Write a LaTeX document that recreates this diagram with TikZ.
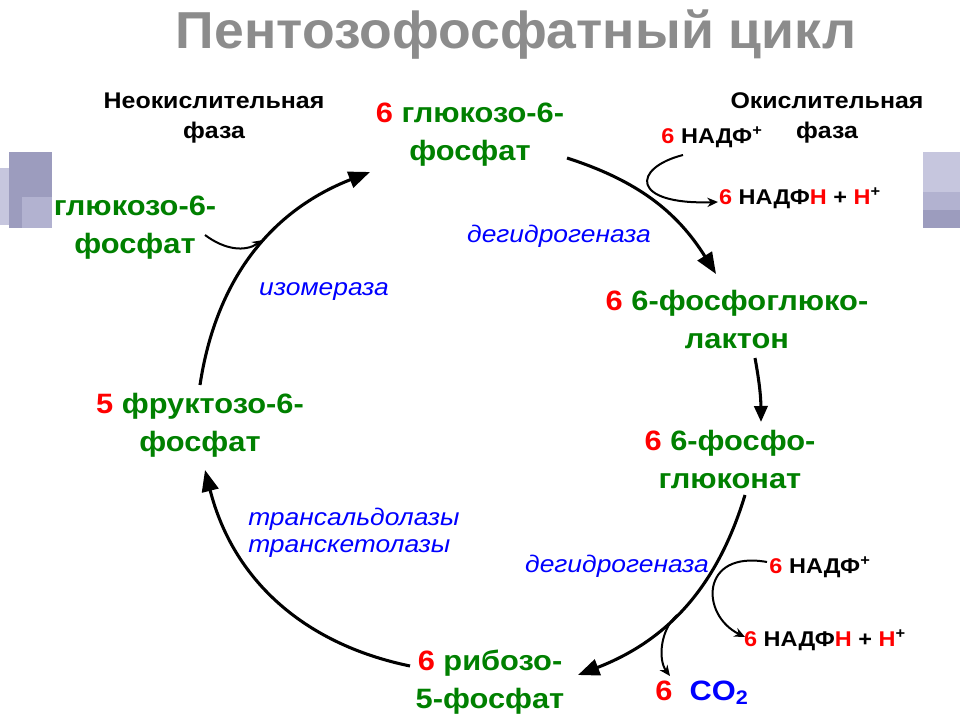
\documentclass[tikz,border=0pt]{standalone}
\usepackage{fontspec}
\setmainfont{Liberation Sans}[FakeStretch=1.1]
\newfontfamily\ttlfont{Liberation Sans}[FakeStretch=1.03]
\usetikzlibrary{arrows.meta}
\definecolor{grn}{RGB}{0,128,0}
\definecolor{ttl}{RGB}{140,140,140}
\definecolor{sqdark}{RGB}{156,156,190}
\definecolor{sqmid}{RGB}{178,178,208}
\definecolor{sqlight}{RGB}{198,198,222}
\newcommand{\rd}[1]{\textcolor{red}{#1}}
\newcommand{\pl}{\textsuperscript{+}}
\tikzset{
  chem/.style={font=\fontsize{21}{28.5}\selectfont\bfseries, text=grn, align=center, inner sep=0pt},
  phase/.style={font=\fontsize{17}{23}\selectfont\bfseries, align=center, inner sep=0pt},
  enz/.style={font=\fontsize{18}{20}\selectfont\itshape, text=blue, align=left, inner sep=0pt},
  cof/.style={font=\fontsize{16}{18}\selectfont\bfseries, inner sep=0pt},
  cyc/.style={line width=2.3pt, -{Triangle[length=16pt,width=12.5pt]}},
  side/.style={line width=1.5pt, -{Stealth[length=8pt,width=7pt]}},
}
\begin{document}
\begin{tikzpicture}[x=0.75pt,y=-0.75pt]
  \useasboundingbox (0,0) rectangle (960,720);

  % decoration squares
  \fill[sqlight] (0,168) rectangle (9,225);
  \fill[sqdark] (9,152) rectangle (52,228);
  \fill[sqmid] (22,197) rectangle (52,228);
  \fill[sqlight] (923,152) rectangle (960,192);
  \fill[sqmid] (923,192) rectangle (960,210);
  \fill[sqdark] (923,210) rectangle (960,228);

  % title
  \node[font=\ttlfont\fontsize{39}{40}\selectfont\bfseries, text=ttl, inner sep=0pt] (title) at (516,35) {Пентозофосфатный цикл};

  % phases
  \node[phase] (neo) at (214,118) {Неокислительная\\фаза};
  \node[phase] (oks) at (827,118) {Окислительная\\фаза};

  % metabolites
  \node[chem] (g6p) at (470,135) {\rd{6} глюкозо-6-\\фосфат};
  \node[chem] (g6pl) at (135,228) {глюкозо-6-\\фосфат};
  \node[chem] (lac) at (737,319) {\rd{6} 6-фосфоглюко-\\лактон};
  \node[chem] (glc) at (730,459) {\rd{6} 6-фосфо-\\глюконат};
  \node[chem] (f6p) at (200,425) {\rd{5} фруктозо-6-\\фосфат};
  \node[chem] (r5p) at (490,682) {\rd{6} рибозо-\\5-фосфат};
  \node[chem, text=blue] (co2) at (702,693) {\rd{6}\ \ CO\textsubscript{2}};

  % cofactors
  \node[cof] (nadp1) at (712,137) {\rd{6} НАДФ\pl};
  \node[cof] (nadph1) at (800,198) {\rd{6} НАДФ\rd{Н} + \rd{Н}\pl};
  \node[cof] (nadp2) at (820,567) {\rd{6} НАДФ\pl};
  \node[cof] (nadph2) at (825,640) {\rd{6} НАДФ\rd{Н} + \rd{Н}\pl};

  % enzymes
  \node[enz] (dh1) at (559,236) {дегидрогеназа};
  \node[enz] (iso) at (324,292) {изомераза};
  \node[enz, anchor=west] (trans) at (248,533) {трансальдолазы\\транскетолазы};
  \node[enz] (dh2) at (617,566) {дегидрогеназа};

  % ends of the cycle arrows
  \coordinate (c1s) at (567,158);
  \coordinate (c1e) at (716,274);
  \coordinate (c2s) at (755,358);
  \coordinate (c2e) at (761,422);
  \coordinate (c3s) at (745,495);
  \coordinate (c3e) at (578,675);
  \coordinate (c4s) at (410,666);
  \coordinate (c4e) at (205,470);
  \coordinate (c5s) at (200,385);
  \coordinate (c5e) at (370,172);

  % cycle
  \draw[cyc] (c1s) to[bend left=20] (c1e);
  \draw[cyc, -{Triangle[length=12pt,width=10pt]}] (c2s) to[bend left=5] (c2e);
  \draw[cyc] (c3s) to[bend left=26] (c3e);
  \draw[cyc] (c4s) to[bend left=32] (c4e);
  \draw[cyc] (c5s) to[bend left=30] (c5e);

  % side reactions
  \coordinate (s1s) at (683,155);
  \coordinate (s1e) at (718,202);
  \draw[side] (s1s) .. controls (632,168) and (630,205) .. (s1e);
  \coordinate (s2s) at (205,235);
  \coordinate (s2e) at (263,240);
  \draw[side] (s2s) .. controls (225,250) and (245,252) .. (s2e);
  \coordinate (s3s) at (767,562);
  \coordinate (s3e) at (745,637);
  \draw[side] (s3s) .. controls (700,550) and (700,615) .. (s3e);
  \coordinate (s4s) at (677,615);
  \coordinate (s4e) at (670,676);
  \draw[side] (s4s) .. controls (660,630) and (658,660) .. (s4e);
\end{tikzpicture}
\end{document}
